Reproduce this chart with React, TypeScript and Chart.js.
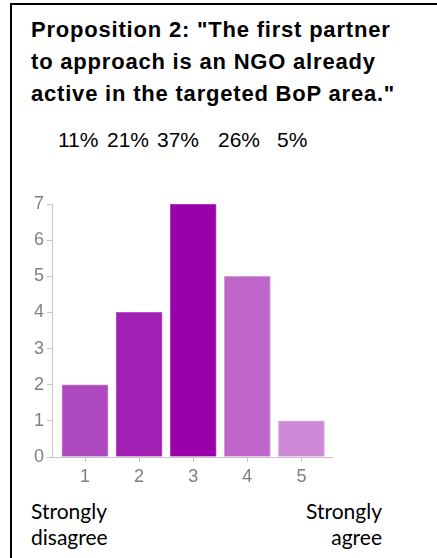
import React, { useEffect, useRef } from "react";
import { Chart, registerables } from "chart.js";

Chart.register(...registerables);

const titleLines = [
  'Proposition 2: "The first partner',
  "to approach is an NGO already",
  'active in the targeted BoP area."',
];
const percentLabels = ["11%", "21%", "37%", "26%", "5%"];
const percentX = [58, 107, 157, 218, 277];
const categories = [1, 2, 3, 4, 5];
const counts = [2, 4, 7, 5, 1];
const yTicks = [0, 1, 2, 3, 4, 5, 6, 7];
const barColors = ["#ad48be", "#a120b3", "#9a00a9", "#bf65ca", "#ce89d6"];
const barBorders = ["#c47bd1", "#b954c7", "#b448c2", "#d49ada", "#ddaee3"];

const SANS = '"Liberation Sans", Arial, sans-serif';

export default function App() {
  const ref = useRef<HTMLCanvasElement>(null);

  useEffect(() => {
    if (!ref.current) return;
    const chart = new Chart(ref.current, {
      type: "bar",
      data: {
        datasets: [
          {
            data: categories.map((c, i) => ({ x: c, y: counts[i] })),
            backgroundColor: barColors,
            borderColor: barBorders,
            borderWidth: 1,
            barThickness: 46,
          },
        ],
      },
      options: {
        animation: false,
        responsive: false,
        devicePixelRatio: 1,
        layout: { padding: { left: 0, right: 105, top: 14, bottom: 0 } },
        plugins: { legend: { display: false }, tooltip: { enabled: false } },
        scales: {
          x: {
            type: "linear",
            offset: false,
            min: 0.39,
            max: 5.565,
            afterBuildTicks: (axis: any) => {
              axis.ticks = categories.map((v) => ({ value: v }));
            },
            afterFit: (axis: any) => {
              axis.height = 30;
            },
            grid: {
              offset: false,
              drawOnChartArea: false,
              drawTicks: true,
              tickLength: 5,
              color: "#c4c4c4",
            },
            border: { display: true, color: "#c4c4c4" },
            ticks: {
              padding: 4,
              color: "#808080",
              font: { family: SANS, size: 18 },
              callback: (v: any) => String(v),
            },
          },
          y: {
            min: 0,
            max: 7,
            afterBuildTicks: (axis: any) => {
              axis.ticks = yTicks.map((v) => ({ value: v }));
            },
            afterFit: (axis: any) => {
              axis.width = 52;
            },
            grid: {
              drawOnChartArea: false,
              drawTicks: true,
              tickLength: 5,
              color: "#c4c4c4",
            },
            border: { display: true, color: "#c4c4c4" },
            ticks: {
              padding: 3,
              color: "#808080",
              font: { family: SANS, size: 18 },
              callback: (v: any) => String(v),
            },
          },
        },
      },
    });
    return () => chart.destroy();
  }, []);

  return (
    <div
      style={{
        position: "absolute",
        left: 0,
        top: 0,
        width: 437,
        height: 558,
        overflow: "hidden",
        background: "#fff",
      }}
    >
      <div
        style={{
          position: "absolute",
          left: 10,
          top: 3,
          width: 440,
          height: 600,
          borderTop: "2px solid #000",
          borderLeft: "2px solid #000",
        }}
      />
      <div
        style={{
          position: "absolute",
          left: 31,
          top: 14,
          fontFamily: SANS,
          fontWeight: "bold",
          fontSize: 22,
          lineHeight: "32px",
          color: "#000",
          whiteSpace: "pre",
          letterSpacing: 0.8,
        }}
      >
        {titleLines.map((l, i) => (
          <div key={i}>{l}</div>
        ))}
      </div>
      {percentLabels.map((p, i) => (
        <span
          key={i}
          style={{
            position: "absolute",
            left: percentX[i],
            top: 126,
            fontFamily: SANS,
            fontSize: 21,
            lineHeight: "28px",
            color: "#000",
            whiteSpace: "pre",
          }}
        >
          {p}
        </span>
      ))}
      <canvas
        ref={ref}
        width={437}
        height={297}
        style={{ position: "absolute", left: 0, top: 190, width: 437, height: 297 }}
      />
      <div
        style={{
          position: "absolute",
          left: 31,
          top: 498,
          fontFamily: "Lato, sans-serif",
          fontSize: 21,
          lineHeight: "26px",
          color: "#000",
        }}
      >
        <div>Strongly</div>
        <div>disagree</div>
      </div>
      <div
        style={{
          position: "absolute",
          right: 437 - 382,
          top: 498,
          fontFamily: "Lato, sans-serif",
          fontSize: 21,
          lineHeight: "26px",
          color: "#000",
          textAlign: "right",
        }}
      >
        <div>Strongly</div>
        <div>agree</div>
      </div>
    </div>
  );
}
